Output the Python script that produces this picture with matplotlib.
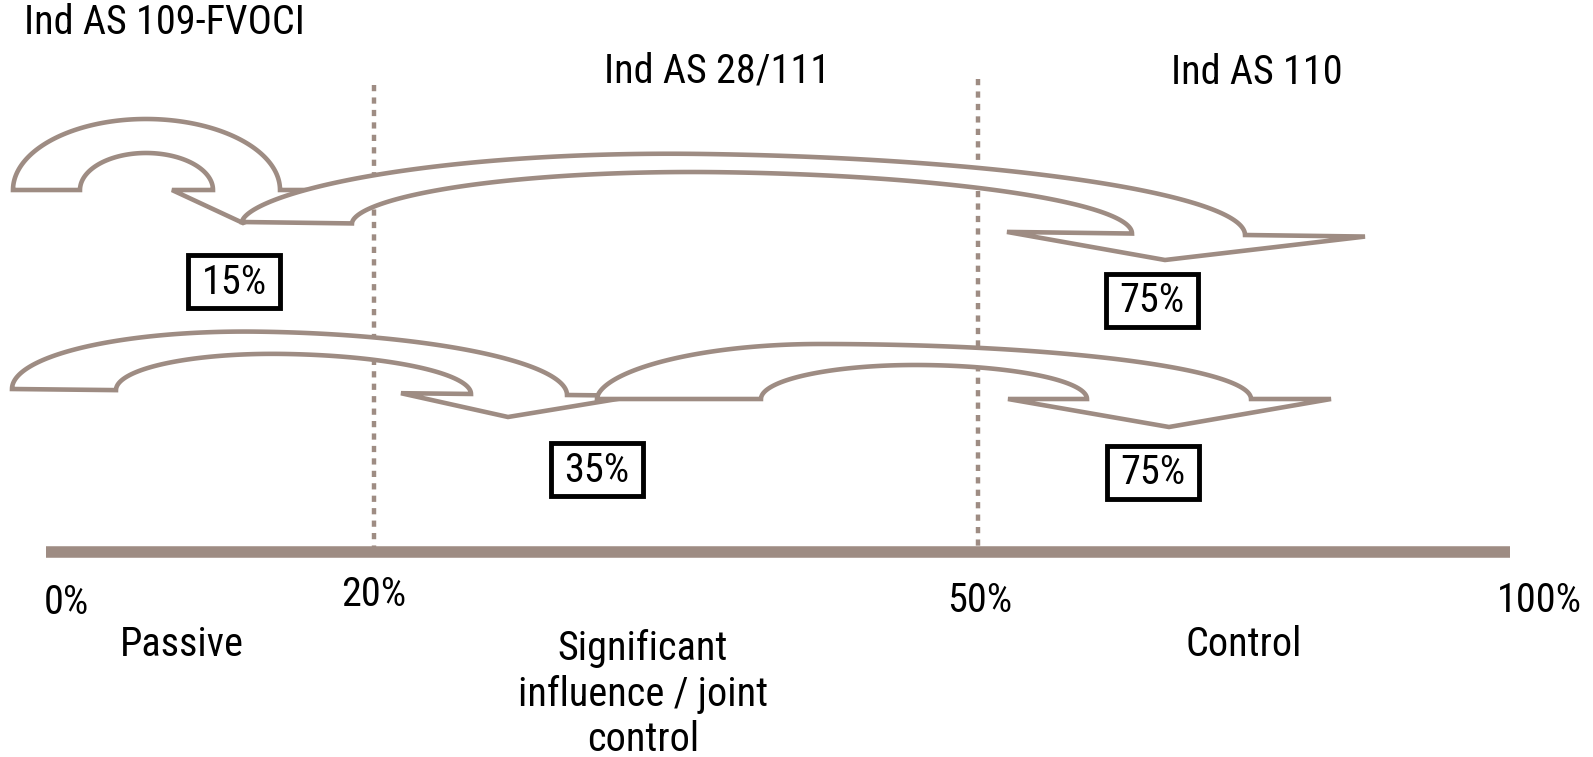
import numpy as np
import matplotlib
matplotlib.use("Agg")
import matplotlib.pyplot as plt
from matplotlib.patches import Polygon, Rectangle

# ---- content -------------------------------------------------------------
stake_ticks = [0, 20, 50, 100]
tick_labels = ["0%", "20%", "50%", "100%"]
categories = ["Passive", "Significant\ninfluence / joint\ncontrol", "Control"]
standards = ["Ind AS 109-FVOCI", "Ind AS 28/111", "Ind AS 110"]
path_a = [15, 75]   # 0% -> 15% -> 75%
path_b = [35, 75]   # 0% -> 35% -> 75%

# ---- layout (pixel canvas) ----------------------------------------------
W, H = 1593, 757
LINE = "#9E8C83"
FONT = ["Roboto Condensed", "Archivo Narrow", "Liberation Sans", "DejaVu Sans"]
FS = 29

tick_px = [66, 374, 980, 1539]          # label centres along the scale
tick_py = [602, 594, 600, 600]
threshold_px = {20: 374, 50: 978}
threshold_top = {20: 85, 50: 79}
bar_x = (46, 1510)
bar_y = 552

cat_pos = [(182, 644), (643, 694), (1244, 644)]
std_pos = [(24, 22, "left"), (717, 71, "center"), (1257, 73, "center")]

# curved arrows: base line, outer/inner arcs, arrow-head wings and tip
arrows = [
    dict(yl=190, yr=190, outer=(13, 280, 146, 71, .5, .5),
         inner=(80, 213, 146, 37, .5, .5), wings=(172, 320), tip=(243, 223)),
    dict(yl=222, yr=235, outer=(242, 1245, 700, 74, .6, .5),
         inner=(352, 1132, 720, 56, .55, .5), wings=(1007, 1365), tip=(1165, 260)),
    dict(yl=389, yr=395, outer=(12, 567, 255, 60, .5, .5),
         inner=(116, 471, 280, 38, .5, .5), wings=(401, 637), tip=(508, 417)),
    dict(yl=399, yr=399, outer=(597, 1251, 820, 55, .55, .5),
         inner=(761, 1087, 915, 34, .5, .5), wings=(1008, 1331), tip=(1169, 427)),
]
box_pos = [(234, 281), (1152, 300), (597, 469), (1153, 472)]
box_w, box_h = 92, 53


def arc(x0, x1, xp, h, kl, kr, base, n=120):
    th = np.linspace(0, np.pi / 2, n)
    xl = xp - (xp - x0) * np.cos(th)
    hl = h * np.sin(th) ** (2 * kl)
    xr = xp + (x1 - xp) * np.sin(th[1:])
    hr = h * np.cos(th[1:]) ** (2 * kr)
    xs = np.concatenate([xl, xr])
    hs = np.concatenate([hl, hr])
    return np.column_stack([xs, base(xs) - hs])


def draw_arrow(ax, spec):
    x0 = spec["outer"][0]
    x1 = spec["outer"][1]
    yl, yr = spec["yl"], spec["yr"]

    def base(x):
        return yl + (yr - yl) * (np.asarray(x, float) - x0) / (x1 - x0)

    outer = arc(*spec["outer"], base)
    inner = arc(*spec["inner"], base)[::-1]
    wl, wr = spec["wings"]
    head = np.array([[wr, base(wr)], list(spec["tip"]), [wl, base(wl)]])
    pts = np.vstack([outer, head, inner])
    ax.add_patch(Polygon(pts, closed=True, facecolor="white", edgecolor=LINE,
                         linewidth=3.3, joinstyle="miter"))


fig = plt.figure(figsize=(W / 100, H / 100), dpi=100)
ax = fig.add_axes([0, 0, 1, 1])
ax.set_xlim(0, W)
ax.set_ylim(H, 0)
ax.axis("off")

# threshold guides
for pct, x in threshold_px.items():
    ax.plot([x, x], [threshold_top[pct], bar_y - 5], color=LINE, lw=3.2,
            dashes=(1.4, 1.4), solid_capstyle="butt", dash_capstyle="butt",
            zorder=1)

# ownership scale
ax.plot(bar_x, [bar_y, bar_y], color=LINE, lw=8.3, solid_capstyle="butt", zorder=2)

for spec in arrows:
    draw_arrow(ax, spec)

# step values in boxes
for (cx, cy), val in zip(box_pos, [path_a[0], path_a[1], path_b[0], path_b[1]]):
    ax.add_patch(Rectangle((cx - box_w / 2, cy - box_h / 2), box_w, box_h,
                           facecolor="white", edgecolor="black", lw=3.5, zorder=5))
    ax.text(cx, cy + 1, f"{val}%", ha="center", va="center", fontsize=FS,
            family=FONT, zorder=6)

for (x, y), lab in zip(zip(tick_px, tick_py), tick_labels):
    ax.text(x, y, lab, ha="center", va="center", fontsize=FS, family=FONT)

for (x, y), lab in zip(cat_pos, categories):
    ax.text(x, y, lab, ha="center", va="center", fontsize=FS, family=FONT,
            linespacing=1.22)

for (x, y, ha), lab in zip(std_pos, standards):
    ax.text(x, y, lab, ha=ha, va="center", fontsize=FS, family=FONT)

fig.savefig("out.png", dpi=100)
